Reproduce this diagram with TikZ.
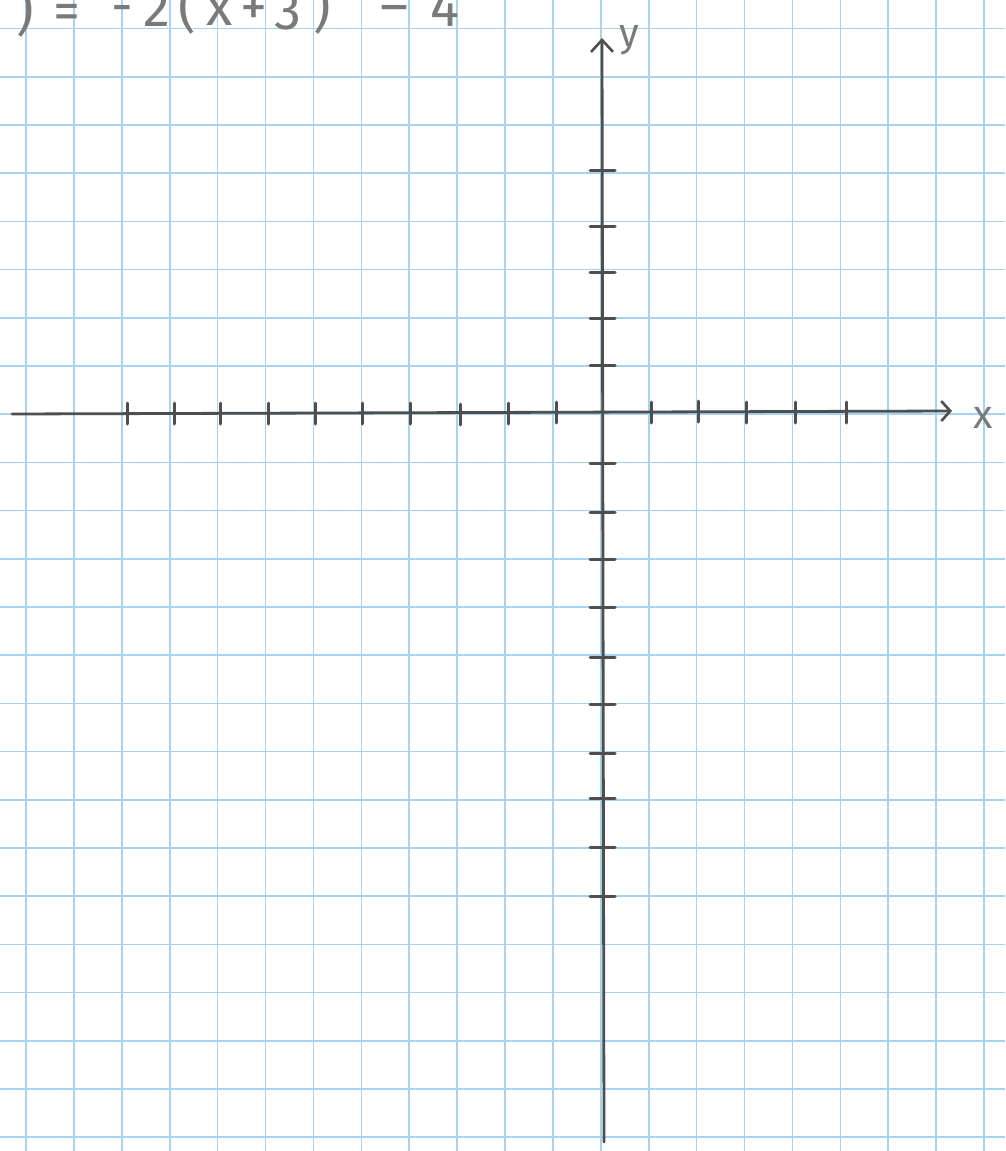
\documentclass[tikz,border=0pt]{standalone}
\usepackage{fontspec}
\setmainfont{Fira Sans}
\usetikzlibrary{arrows.meta}
\definecolor{gridblue}{HTML}{A6D3F0}
\definecolor{pencil}{HTML}{4E4E4E}
\definecolor{penciltext}{HTML}{7A7A7A}
\tikzset{
  gridline/.style={gridblue, line width=1.6pt},
  axisline/.style={pencil, line width=2.8pt, line cap=round},
  tickmark/.style={pencil, line width=3pt, line cap=round},
  glyph/.style={penciltext, anchor=base, inner sep=0pt, font=\fontsize{54}{60}\selectfont},
  axlabel/.style={penciltext, inner sep=0pt, font=\fontsize{40}{44}\selectfont},
}
\begin{document}
\begin{tikzpicture}[x=1pt, y=-1pt]
\useasboundingbox (0,0) rectangle (1005,1151);
\fill[white] (0,0) rectangle (1005,1151);
\clip (0,0) rectangle (1005,1151);
% grid
\foreach \k in {0,...,20} {
  \draw[gridline] ({26+47.9*\k},0) -- ({26+47.9*\k},1151);
}
\foreach \k in {0,...,23} {
  \draw[gridline] (0,{28.5+48.2*\k}) -- (1005,{28.5+48.2*\k});
}
% formula (top cut off, as in the reference)
\node[glyph] (g1) at (25,29) {)};
\node[glyph] (g2) at (67,29) {=};
\node[glyph] (g3) at (122,24) {-};
\node[glyph] (g4) at (157,27) {2};
\node[glyph] (g5) at (187,27) {(};
\node[glyph] (g6) at (220,25) {x};
\node[glyph] (g7) at (254,25) {+};
\node[glyph] (g8) at (288,29) {3};
\node[glyph] (g9) at (322,27) {)};
\node[glyph] (g10) at (395,24) {–};
\node[glyph] (g11) at (445,27) {4};
% axes
\coordinate (xs) at (12,414);
\coordinate (xe) at (952,411);
\coordinate (ys) at (604,1142);
\coordinate (ye) at (602,38);
\draw[axisline, -{Straight Barb[length=9pt,width=20pt,line width=2.6pt]}] (xs) -- (xe);
\draw[axisline, -{Straight Barb[length=12pt,width=22pt,line width=2.6pt]}] (ys) -- (ye);
\node[axlabel] (xl) at (983,418) {x};
\node[axlabel] (yl) at (629,40) {y};
% x ticks
\foreach \xx/\yy in {127/413, 174/413, 220/413, 268/413, 315/413, 362/413, 410/413, 460/414, 508/413, 556/412, 651/412, 698/411, 746/412, 795/412, 846/412} {
  \draw[tickmark] (\xx,{\yy-10}) -- (\xx,{\yy+11});
}
% y ticks
\foreach \yy in {170, 226, 272, 318, 365, 463, 512, 559, 607, 657, 704, 753, 798, 847, 896} {
  \draw[tickmark] (590,\yy) -- (615,\yy);
}
\end{tikzpicture}
\end{document}
